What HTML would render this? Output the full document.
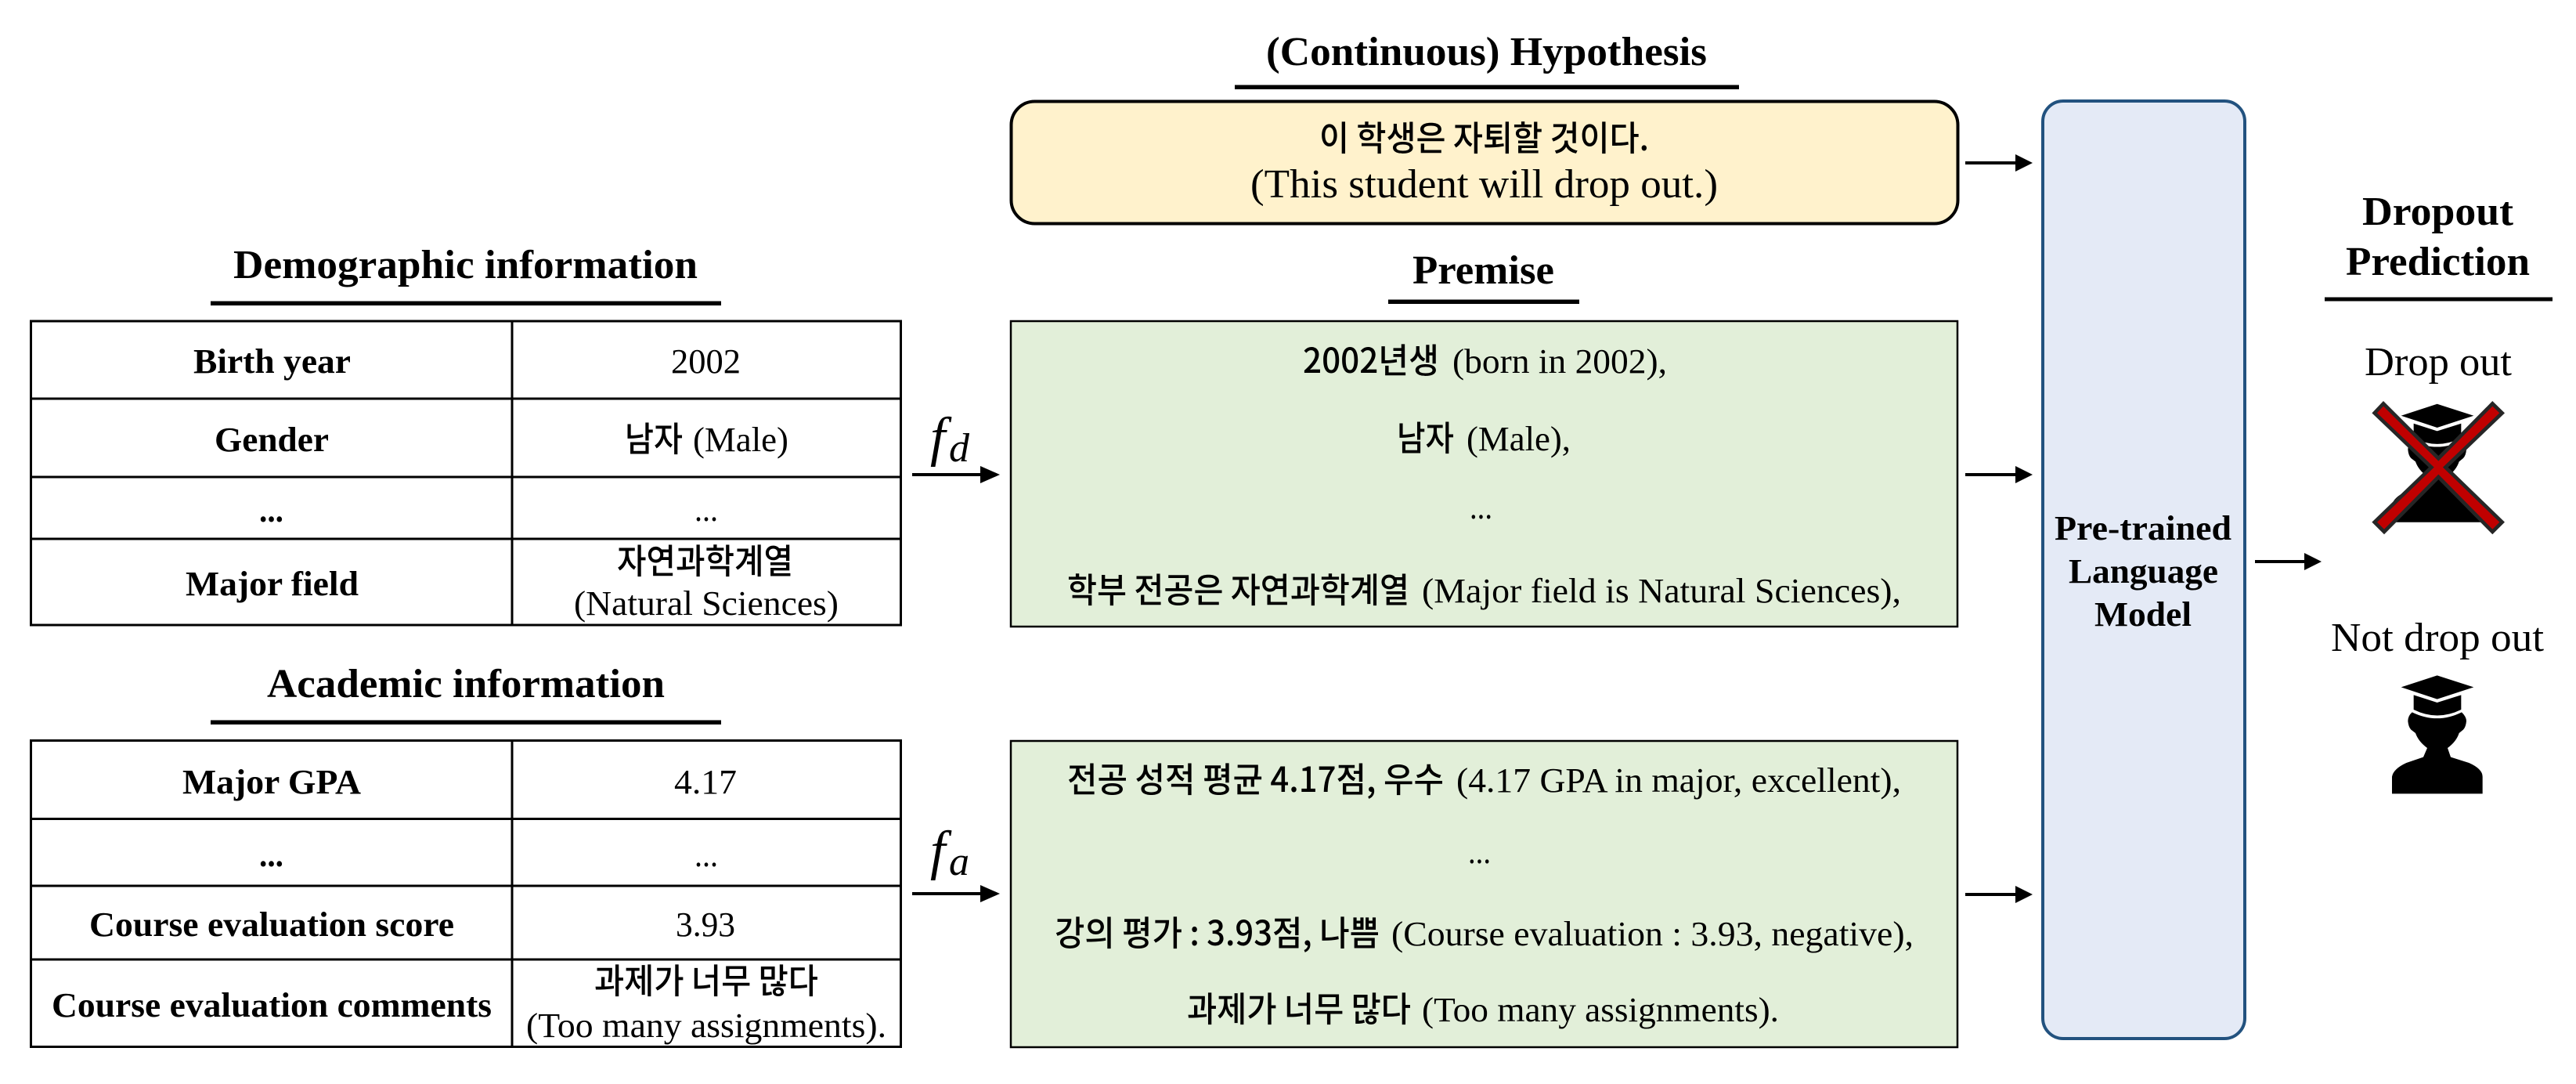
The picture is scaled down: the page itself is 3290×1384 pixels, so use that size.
<!DOCTYPE html>
<html>
<head>
<meta charset="utf-8">
<style>
html,body{margin:0;padding:0;background:#fff;width:3290px;height:1384px;overflow:hidden}
svg{display:block}
text{font-family:"Liberation Serif","Noto Sans CJK KR",serif;fill:#000;white-space:pre}
.b{font-weight:bold}
.h{font-size:52px;font-weight:bold}
.t{font-size:44px}
.m{font-size:52px}
.i{font-style:italic}
.k{font-family:"Noto Sans CJK KR","Liberation Sans",sans-serif;font-weight:500}
</style>
</head>
<body>
<svg width="3290" height="1384" viewBox="0 0 3290 1384" xmlns="http://www.w3.org/2000/svg">
<defs>
<path id="stu" d="M218 37L358 82L218 128L80 82Z M128 112L218 141L310 112L310 168Q218 213 128 168Z M122 178Q218 225 312 178Q330 195 330 212Q328 235 318 245L302 258Q292 290 258 315L270 350L340 372Q392 395 392 425L392 490L45 490L45 425Q50 395 100 372L165 350L180 315Q146 290 135 258L118 245Q108 235 106 212Q106 192 122 178Z"/>
</defs>
<!-- underlines -->
<rect x="269" y="384.5" width="652" height="5.5"/>
<rect x="269" y="919.5" width="652" height="5.5"/>
<rect x="1577" y="108.5" width="644" height="5.5"/>
<rect x="1773" y="382.5" width="244" height="5.5"/>
<rect x="2969" y="379.5" width="291" height="5"/>
<!-- headings -->
<text class="h" x="298" y="355" textLength="593" lengthAdjust="spacingAndGlyphs">Demographic information</text>
<text class="h" x="341" y="890" textLength="508" lengthAdjust="spacingAndGlyphs">Academic information</text>
<text class="h" x="1617" y="83" textLength="563" lengthAdjust="spacingAndGlyphs">(Continuous) Hypothesis</text>
<text class="h" x="1804" y="362" textLength="181" lengthAdjust="spacingAndGlyphs">Premise</text>
<text class="h" x="3017" y="287" textLength="193" lengthAdjust="spacingAndGlyphs">Dropout</text>
<text class="h" x="2996" y="351" textLength="235" lengthAdjust="spacingAndGlyphs">Prediction</text>
<!-- tables -->
<g fill="none" stroke="#000" stroke-width="3">
<rect x="39.5" y="410" width="1111" height="388"/>
<path d="M39 509H1151M39 609H1151M39 688H1151M654 410V798"/>
<rect x="39.5" y="945.5" width="1111" height="391"/>
<path d="M39 1045.5H1151M39 1131H1151M39 1225H1151M654 945V1337"/>
</g>
<g class="t">
<text class="t b" x="247" y="476" textLength="201" lengthAdjust="spacingAndGlyphs">Birth year</text>
<text class="t" x="857" y="476" textLength="89" lengthAdjust="spacingAndGlyphs">2002</text>
<text class="t b" x="274" y="576" textLength="146" lengthAdjust="spacingAndGlyphs">Gender</text>
<text class="t k" x="798" y="576" textLength="74" lengthAdjust="spacingAndGlyphs">남자</text>
<text class="t" x="885" y="576" textLength="122" lengthAdjust="spacingAndGlyphs">(Male)</text>
<text class="t b" x="331" y="666" textLength="31" lengthAdjust="spacingAndGlyphs">...</text>
<text class="t" x="887" y="665" textLength="30" lengthAdjust="spacingAndGlyphs">...</text>
<text class="t b" x="237" y="760" textLength="221" lengthAdjust="spacingAndGlyphs">Major field</text>
<text class="t k" x="788" y="732" textLength="225" lengthAdjust="spacingAndGlyphs">자연과학계열</text>
<text class="t" x="733" y="785" textLength="338" lengthAdjust="spacingAndGlyphs">(Natural Sciences)</text>
<text class="t b" x="233" y="1013" textLength="228" lengthAdjust="spacingAndGlyphs">Major GPA</text>
<text class="t" x="861" y="1013" textLength="80" lengthAdjust="spacingAndGlyphs">4.17</text>
<text class="t b" x="331" y="1106" textLength="31" lengthAdjust="spacingAndGlyphs">...</text>
<text class="t" x="887" y="1106" textLength="30" lengthAdjust="spacingAndGlyphs">...</text>
<text class="t b" x="114" y="1195" textLength="466" lengthAdjust="spacingAndGlyphs">Course evaluation score</text>
<text class="t" x="863" y="1195" textLength="76" lengthAdjust="spacingAndGlyphs">3.93</text>
<text class="t b" x="66" y="1298" textLength="562" lengthAdjust="spacingAndGlyphs">Course evaluation comments</text>
<text class="t k" x="759" y="1268" textLength="286" lengthAdjust="spacingAndGlyphs">과제가 너무 많다</text>
<text class="t" x="672" y="1324" textLength="460" lengthAdjust="spacingAndGlyphs">(Too many assignments).</text>
</g>
<!-- f labels -->
<text class="i" font-size="70" x="1188" y="581">f</text>
<text class="i" font-size="52" x="1212" y="589">d</text>
<text class="i" font-size="70" x="1188" y="1109">f</text>
<text class="i" font-size="52" x="1212" y="1117">a</text>
<!-- boxes -->
<rect x="1291.5" y="129.5" width="1209" height="156" rx="30" ry="30" fill="#FFF2CC" stroke="#000" stroke-width="4"/>
<rect x="1291" y="410" width="1209" height="390" fill="#E2EFD9" stroke="#000" stroke-width="2.5"/>
<rect x="1291" y="946" width="1209" height="391" fill="#E2EFD9" stroke="#000" stroke-width="2.5"/>
<rect x="2609" y="129" width="258" height="1197" rx="26" ry="26" fill="#E4EAF6" stroke="#22527F" stroke-width="4"/>
<!-- hypothesis text -->
<text class="t k" x="1685" y="192" textLength="421" lengthAdjust="spacingAndGlyphs">이 학생은 자퇴할 것이다.</text>
<text class="m" x="1597" y="252" textLength="597" lengthAdjust="spacingAndGlyphs">(This student will drop out.)</text>
<!-- premise text -->
<text class="t k" x="1664" y="476" textLength="174" lengthAdjust="spacingAndGlyphs">2002년생</text>
<text class="t" x="1855" y="476" textLength="274" lengthAdjust="spacingAndGlyphs">(born in 2002),</text>
<text class="t k" x="1784" y="575" textLength="73" lengthAdjust="spacingAndGlyphs">남자</text>
<text class="t" x="1873" y="575" textLength="133" lengthAdjust="spacingAndGlyphs">(Male),</text>
<text class="t" x="1877" y="662" textLength="29" lengthAdjust="spacingAndGlyphs">...</text>
<text class="t k" x="1363" y="769" textLength="437" lengthAdjust="spacingAndGlyphs">학부 전공은 자연과학계열</text>
<text class="t" x="1816" y="769" textLength="612" lengthAdjust="spacingAndGlyphs">(Major field is Natural Sciences),</text>
<text class="t k" x="1363" y="1011" textLength="481" lengthAdjust="spacingAndGlyphs">전공 성적 평균 4.17점, 우수</text>
<text class="t" x="1860" y="1011" textLength="568" lengthAdjust="spacingAndGlyphs">(4.17 GPA in major, excellent),</text>
<text class="t" x="1875" y="1102" textLength="29" lengthAdjust="spacingAndGlyphs">...</text>
<text class="t k" x="1347" y="1207" textLength="415" lengthAdjust="spacingAndGlyphs">강의 평가 : 3.93점, 나쁨</text>
<text class="t" x="1777" y="1207" textLength="667" lengthAdjust="spacingAndGlyphs">(Course evaluation : 3.93, negative),</text>
<text class="t k" x="1516" y="1304" textLength="286" lengthAdjust="spacingAndGlyphs">과제가 너무 많다</text>
<text class="t" x="1816" y="1304" textLength="456" lengthAdjust="spacingAndGlyphs">(Too many assignments).</text>
<!-- model text -->
<text class="t b" x="2624" y="689" textLength="226" lengthAdjust="spacingAndGlyphs">Pre-trained</text>
<text class="t b" x="2642" y="744" textLength="191" lengthAdjust="spacingAndGlyphs">Language</text>
<text class="t b" x="2675" y="799" textLength="124" lengthAdjust="spacingAndGlyphs">Model</text>
<!-- right labels -->
<text class="m" x="3020" y="479" textLength="188" lengthAdjust="spacingAndGlyphs">Drop out</text>
<text class="m" x="2977" y="831" textLength="272" lengthAdjust="spacingAndGlyphs">Not drop out</text>
<!-- arrows -->
<g fill="#000">
<path d="M1165 604H1252V595L1277 606L1252 617V608H1165Z"/>
<path d="M1165 1139H1252V1130L1277 1141L1252 1152V1143H1165Z"/>
<path d="M2510 206H2574V197L2596 208L2574 219V210H2510Z"/>
<path d="M2510 604H2574V595L2596 606L2574 617V608H2510Z"/>
<path d="M2510 1140H2574V1131L2596 1142L2574 1153V1144H2510Z"/>
<path d="M2880 715H2943V706L2965 717L2943 728V719H2880Z"/>
</g>
<!-- icons -->
<g transform="translate(3040 850) scale(.3333)"><use href="#stu"/></g>
<g transform="translate(3040 503.4) scale(.3333)"><use href="#stu"/></g>
<g transform="translate(3020 500) scale(.3333)">
<polygon points="72,46 283,256 490,46 527,82 310,290 527,500 490,537 283,327 75,537 38,500 256,290 38,82" fill="#C00000" stroke="#262626" stroke-width="14" stroke-linejoin="miter"/>
</g>
</svg>
</body>
</html>
